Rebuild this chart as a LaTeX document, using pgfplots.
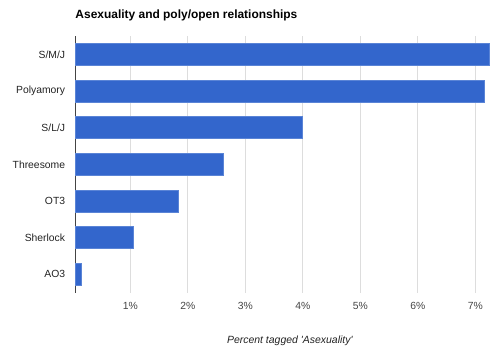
\documentclass[border=0pt]{standalone}
\usepackage{fontspec}
\setmainfont{Liberation Sans}
\usepackage{pgfplots}
\pgfplotsset{compat=1.18}
\definecolor{barblue}{HTML}{3366CC}
\definecolor{baredge}{HTML}{5A84D6}
\definecolor{gridgray}{HTML}{DDDDDD}
\definecolor{txtdark}{HTML}{222222}
\definecolor{txtgray}{HTML}{444444}
\begin{document}
\begin{tikzpicture}
\path[use as bounding box] (0,0) rectangle (500bp,358bp);
\begin{axis}[
  at={(75.3bp,65.3bp)}, anchor=south west,
  scale only axis,
  width=415.7bp, height=256.7bp,
  xbar, bar width=22bp,
  xmin=0.045, xmax=7.27,
  ymin=-0.5, ymax=6.5,
  y dir=reverse,
  ytick={0,1,2,3,4,5,6},
  yticklabels={S/M/J,Polyamory,S/L/J,Threesome,OT3,Sherlock,AO3},
  xtick={1,2,3,4,5,6,7},
  xticklabels={1\%,2\%,3\%,4\%,5\%,6\%,7\%},
  major tick length=0pt,
  axis y line*=left, axis x line*=bottom,
  x axis line style={draw=none},
  y axis line style={draw=txtgray, line width=0.9bp},
  xmajorgrids, grid style={draw=gridgray, line width=0.9bp},
  yticklabel style={font=\fontsize{10.4}{12}\selectfont, text=txtdark, anchor=east, inner sep=0pt, xshift=-10bp},
  xticklabel style={font=\fontsize{10.4}{12}\selectfont, text=txtgray, anchor=north, inner sep=0pt, yshift=-9bp},
  axis on top=false,
  clip=false,
]
\addplot[fill=barblue, draw=baredge, line width=0.5bp] coordinates {
  (7.24,0) (7.16,1) (3.99,2) (2.62,3) (1.84,4) (1.06,5) (0.15,6)
};
\node[anchor=base west, inner sep=0pt, font=\fontsize{12}{14}\selectfont\bfseries, text=black]
  at (axis description cs:0,1) [yshift=17.7bp] {Asexuality and poly/open relationships};
\node[anchor=base, inner sep=0pt, font=\fontsize{10.5}{12}\selectfont\itshape, text=txtdark]
  at (axis description cs:0.516,0) [yshift=-50.3bp] {Percent tagged \textquotesingle Asexuality\textquotesingle};
\end{axis}
\end{tikzpicture}
\end{document}
